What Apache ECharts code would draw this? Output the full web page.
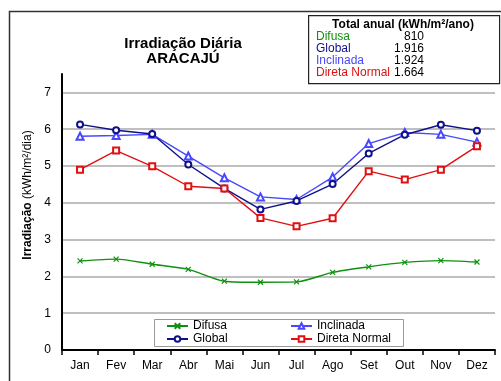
<!DOCTYPE html>
<html>
<head>
<meta charset="utf-8">
<script src="https://cdn.jsdelivr.net/npm/echarts@6/dist/echarts.min.js"></script>
<style>
  html, body { margin: 0; padding: 0; background: #fff; }
  #chart { width: 501px; height: 381px; }
</style>
</head>
<body>
<div id="chart"></div>
<script>
// Monthly daily irradiation, Aracaju (kWh/m²/dia)
const months = ['Jan', 'Fev', 'Mar', 'Abr', 'Mai', 'Jun', 'Jul', 'Ago', 'Set', 'Out', 'Nov', 'Dez'];
const difusa = [2.42, 2.47, 2.33, 2.19, 1.87, 1.84, 1.85, 2.11, 2.26, 2.38, 2.43, 2.39];
const global = [6.13, 5.97, 5.87, 5.04, 4.39, 3.82, 4.05, 4.51, 5.34, 5.85, 6.12, 5.96];
const inclinada = [5.81, 5.83, 5.86, 5.27, 4.68, 4.16, 4.09, 4.70, 5.61, 5.91, 5.86, 5.65];
const diretaNormal = [4.90, 5.42, 4.99, 4.45, 4.39, 3.59, 3.36, 3.58, 4.86, 4.63, 4.90, 5.54];

// Annual totals (kWh/m²/ano)
const totalLabels = ['Difusa', 'Global', 'Inclinada', 'Direta Normal'];
const totalValues = ['810', '1.916', '1.924', '1.664'];
const yTicks = [0, 1, 2, 3, 4, 5, 6, 7];

const FONT = 'Liberation Sans, Arial, sans-serif';
const cGreen = '#109010';
const cNavy = '#10108a';
const cBlue = '#4848ff';
const cRed = '#e01010';
const totalColors = [cGreen, cNavy, cBlue, cRed];

const chart = echarts.init(document.getElementById('chart'));

const crossSymbol = 'path://M0,0L10,10M10,0L0,10';

function lineSeries(name, data, color, symbol, size, extra) {
  return Object.assign({
    name: name,
    type: 'line',
    data: data,
    symbol: symbol,
    symbolSize: size,
    showAllSymbol: true,
    lineStyle: { color: color, width: 1.4 },
    itemStyle: { color: color, borderColor: color, borderWidth: 1 },
    emphasis: { disabled: true },
    z: 3
  }, extra || {});
}

// Annual totals box (top right)
const totalsGraphic = [];
totalsGraphic.push({
  type: 'rect', left: 308, top: 15, z: 10,
  shape: { width: 191, height: 68 },
  style: { fill: '#fff', stroke: '#222', lineWidth: 1.2 }
});
totalsGraphic.push({
  type: 'text', x: 403, y: 25, z: 11,
  style: { text: 'Total anual (kWh/m²/ano)', font: 'bold 12px ' + FONT, fill: '#000', textAlign: 'center', textVerticalAlign: 'middle' }
});
totalLabels.forEach(function (lab, i) {
  totalsGraphic.push({
    type: 'text', x: 316, y: 37 + i * 12, z: 11,
    style: { text: lab, font: '12px ' + FONT, fill: totalColors[i], textVerticalAlign: 'middle' }
  });
  totalsGraphic.push({
    type: 'text', x: 424, y: 37 + i * 12, z: 11,
    style: { text: totalValues[i], font: '12px ' + FONT, fill: '#000', textAlign: 'right', textVerticalAlign: 'middle' }
  });
});

const legendCommon = {
  top: 320, orient: 'vertical', padding: 0, itemGap: 1, itemWidth: 21, itemHeight: 7, z: 12,
  textStyle: { fontFamily: FONT, fontSize: 12, color: '#000' }
};

chart.setOption({
  animation: false,
  backgroundColor: '#fff',
  title: {
    text: 'Irradiação Diária\nARACAJÚ',
    left: 178, top: 31, textAlign: 'center',
    textStyle: { fontFamily: FONT, fontWeight: 'bold', fontSize: 15, lineHeight: 15, color: '#000' }
  },
  grid: { left: 62, right: 6, top: 74, bottom: 31, containLabel: false },
  xAxis: {
    type: 'category',
    data: months,
    boundaryGap: true,
    axisLine: { lineStyle: { color: '#000', width: 2 } },
    axisTick: { show: true, length: 5, lineStyle: { color: '#000', width: 1.5 } },
    axisLabel: { fontFamily: FONT, fontSize: 12, color: '#000', margin: 10 }
  },
  yAxis: {
    type: 'value',
    min: 0, max: 7.5, interval: 1,
    axisLine: { show: true, lineStyle: { color: '#000', width: 2 } },
    axisTick: { show: false },
    axisLabel: {
      fontFamily: FONT, fontSize: 12, color: '#000', margin: 11,
      formatter: function (v) { return yTicks.indexOf(v) >= 0 ? String(v) : ''; }
    },
    splitLine: {
      lineStyle: {
        color: ['#aaaaaa', '#aaaaaa', '#aaaaaa', '#aaaaaa', '#aaaaaa', '#aaaaaa', '#aaaaaa', '#aaaaaa', 'rgba(0,0,0,0)'],
        width: 1.5
      }
    }
  },
  legend: [
    Object.assign({ left: 166, data: ['Difusa', 'Global'] }, legendCommon),
    Object.assign({ left: 290, data: ['Inclinada', 'Direta Normal'] }, legendCommon)
  ],
  graphic: [
    {
      type: 'rect', left: 7, top: 9, z: 0, silent: true,
      shape: { width: 600, height: 500 },
      style: { fill: 'none', stroke: '#333', lineWidth: 1.5 }
    },
    {
      type: 'rect', left: 154, top: 319, z: 11,
      shape: { width: 249, height: 27 },
      style: { fill: '#fff', stroke: '#999', lineWidth: 1 }
    },
    {
      // y-axis title
      type: 'text', x: 28, y: 195, rotation: Math.PI / 2, z: 11,
      style: {
        text: '{b|Irradiação} (kWh/m²/dia)',
        font: '12px ' + FONT, fill: '#000',
        textAlign: 'center', textVerticalAlign: 'middle',
        rich: { b: { fontFamily: FONT, fontSize: 12, fontWeight: 'bold', fill: '#000' } }
      }
    }
  ].concat(totalsGraphic),
  series: [
    lineSeries('Difusa', difusa, cGreen, crossSymbol, 5, { smooth: 0.25, itemStyle: { color: 'rgba(0,0,0,0)', borderColor: cGreen, borderWidth: 1.2 } }),
    lineSeries('Inclinada', inclinada, cBlue, 'emptyTriangle', 7),
    lineSeries('Global', global, cNavy, 'emptyCircle', 6),
    lineSeries('Direta Normal', diretaNormal, cRed, 'emptyRect', 6)
  ]
});
</script>
</body>
</html>
